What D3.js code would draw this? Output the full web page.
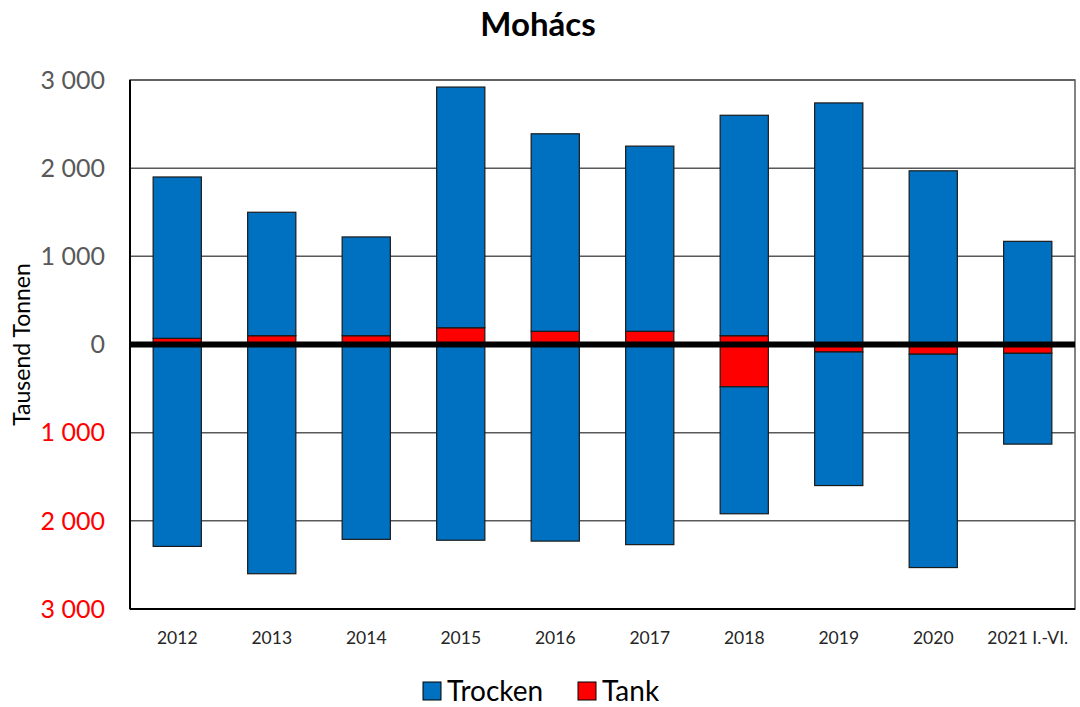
<!DOCTYPE html>
<meta charset="utf-8">
<style>
body { margin: 0; background: #fff; font-family: Lato, "Open Sans", sans-serif; }
</style>
<body>
<div id="chart"></div>
<script src="https://d3js.org/d3.v7.min.js"></script>
<script>

// categories and values (Tausend Tonnen)
var years = ["2012", "2013", "2014", "2015", "2016", "2017", "2018", "2019", "2020", "2021 I.-VI."];
var tankUp =     [70, 100, 100, 190, 150, 150, 100, 0, 0, 0];
var trockenUp =  [1830, 1400, 1120, 2730, 2240, 2100, 2500, 2740, 1970, 1170];
var tankDown =   [0, 0, 0, 0, 0, 0, -480, -85, -110, -100];
var trockenDown = [-2290, -2600, -2210, -2220, -2230, -2270, -1440, -1515, -2420, -1030];
var yTicks = [3000, 2000, 1000, 0, -1000, -2000, -3000];

var W = 1080, H = 707;
var margin = {top: 80, right: 5, bottom: 98, left: 130};
var width = 1075 - margin.left,
    height = 609 - margin.top;

var svg = d3.select("#chart").append("svg")
    .attr("width", W)
    .attr("height", H);

var g = svg.append("g")
    .attr("transform", "translate(" + margin.left + "," + margin.top + ")");

var x = d3.scaleBand().domain(years).range([0, width]).paddingInner(0.49).paddingOuter(0.245);
var y = d3.scaleLinear().domain([-3000, 3000]).range([height, 0]);

// grid lines
g.append("g")
  .selectAll("line")
  .data(yTicks.filter(function(d) { return d !== 0; }))
  .enter().append("line")
    .attr("x1", 0).attr("x2", width)
    .attr("y1", function(d) { return y(d); })
    .attr("y2", function(d) { return y(d); })
    .attr("stroke", "#595959")
    .attr("stroke-width", 1.5);

// plot border
g.append("rect")
  .attr("width", width).attr("height", height)
  .attr("fill", "none")
  .attr("stroke", "#595959")
  .attr("stroke-width", 1.5);
g.append("line").attr("x1", 0).attr("x2", 0).attr("y1", 0).attr("y2", height)
  .attr("stroke", "#000").attr("stroke-width", 2);
g.append("line").attr("x1", 0).attr("x2", width).attr("y1", height).attr("y2", height)
  .attr("stroke", "#000").attr("stroke-width", 2);

// build stacked segments
var segs = [];
years.forEach(function(yr, i) {
  segs.push({year: yr, y0: 0, y1: tankUp[i], color: "#FF0000"});
  segs.push({year: yr, y0: tankUp[i], y1: tankUp[i] + trockenUp[i], color: "#0070C0"});
  segs.push({year: yr, y0: 0, y1: tankDown[i], color: "#FF0000"});
  segs.push({year: yr, y0: tankDown[i], y1: tankDown[i] + trockenDown[i], color: "#0070C0"});
});

g.append("g")
  .selectAll("rect")
  .data(segs.filter(function(d) { return d.y0 !== d.y1; }))
  .enter().append("rect")
    .attr("x", function(d) { return x(d.year); })
    .attr("width", x.bandwidth())
    .attr("y", function(d) { return y(Math.max(d.y0, d.y1)); })
    .attr("height", function(d) { return Math.abs(y(d.y0) - y(d.y1)); })
    .attr("fill", function(d) { return d.color; })
    .attr("stroke", "#1a1a1a")
    .attr("stroke-width", 1.2);

// zero line
g.append("line")
  .attr("x1", 0).attr("x2", width)
  .attr("y1", y(0)).attr("y2", y(0))
  .attr("stroke", "#000")
  .attr("stroke-width", 6);

// y tick labels
var fmt = function(v) { return d3.format(",")(Math.abs(v)).replace(/,/g, " "); };
g.append("g")
  .selectAll("text")
  .data(yTicks)
  .enter().append("text")
    .attr("x", -25)
    .attr("y", function(d) { return y(d); })
    .attr("dy", "0.35em")
    .attr("text-anchor", "end")
    .style("font-size", "25px")
    .attr("fill", function(d) { return d < 0 ? "#FF0000" : "#595959"; })
    .text(fmt);

// x labels
g.append("g")
  .selectAll("text")
  .data(years)
  .enter().append("text")
    .attr("x", function(d) { return x(d) + x.bandwidth() / 2; })
    .attr("y", height + 35)
    .attr("text-anchor", "middle")
    .style("font-size", "17.5px")
    .attr("fill", "#262626")
    .text(function(d) { return d; });

// title
svg.append("text")
  .attr("x", 538).attr("y", 36)
  .attr("text-anchor", "middle")
  .style("font-size", "33px")
  .style("font-weight", "bold")
  .attr("fill", "#000")
  .text("Mohács");

// y axis title
svg.append("text")
  .attr("transform", "translate(30," + (margin.top + y(0)) + ") rotate(-90)")
  .attr("text-anchor", "middle")
  .style("font-size", "23px")
  .attr("fill", "#000")
  .text("Tausend Tonnen");

// legend
var legend = [{name: "Trocken", color: "#0070C0", x: 423}, {name: "Tank", color: "#FF0000", x: 578}];
var lg = svg.append("g").selectAll("g").data(legend).enter().append("g")
  .attr("transform", function(d) { return "translate(" + d.x + ",682)"; });
lg.append("rect")
  .attr("width", 18).attr("height", 18)
  .attr("fill", function(d) { return d.color; })
  .attr("stroke", "#000").attr("stroke-width", 1);
lg.append("text")
  .attr("x", 24).attr("y", 19)
  .style("font-size", "28px")
  .attr("fill", "#000")
  .text(function(d) { return d.name; });

</script>
</body>
